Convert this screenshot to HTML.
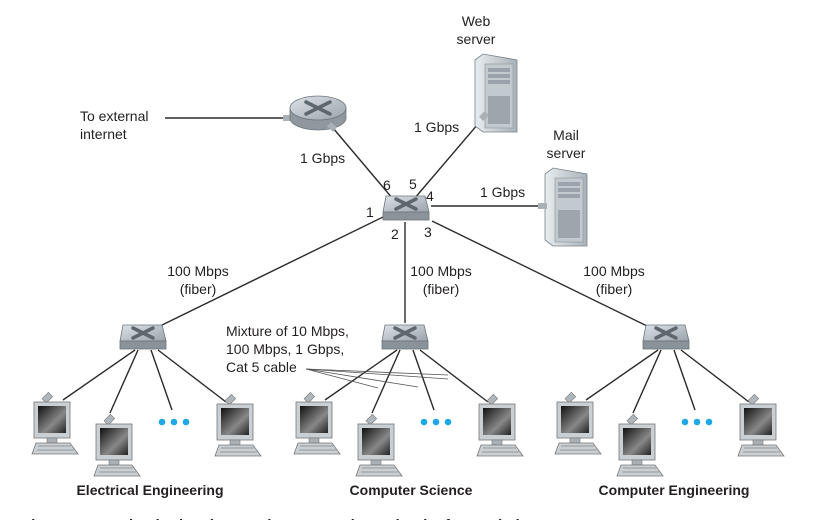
<!DOCTYPE html>
<html><head><meta charset="utf-8"><style>
html,body{margin:0;padding:0;background:#fff;overflow:hidden}
svg{display:block}
text{font-family:"Liberation Sans",sans-serif;font-size:14px;fill:#231f20}
.b{font-weight:bold}
</style></head><body>
<svg width="834" height="520" viewBox="0 0 834 520" xmlns="http://www.w3.org/2000/svg">
<defs>
<linearGradient id="sw" x1="0" y1="0" x2="1" y2="1"><stop offset="0" stop-color="#dde3e8"/><stop offset="1" stop-color="#9aa3ab"/></linearGradient>
<linearGradient id="scr" x1="0" y1="0" x2="1" y2="1"><stop offset="0" stop-color="#111"/><stop offset="0.6" stop-color="#888"/><stop offset="1" stop-color="#222"/></linearGradient>
<linearGradient id="srv" x1="0" y1="0" x2="1" y2="0"><stop offset="0" stop-color="#e8edf0"/><stop offset="1" stop-color="#a9b2b8"/></linearGradient>
<g id="switch">
<polygon points="3,0 42,0 46,16 0,16" fill="url(#sw)" stroke="#6d757c" stroke-width="0.8"/>
<rect x="0" y="16" width="46" height="8" fill="#8a939a" stroke="#6d757c" stroke-width="0.8"/>
<path d="M13,3 L33,13 M33,3 L13,13" stroke="#5f676e" stroke-width="3.5" stroke-linecap="round"/>
</g>
<g id="pc">
<rect x="10" y="-5" width="6" height="9" fill="#b0b7bc" stroke="#777" stroke-width="0.6" transform="rotate(45 13 0)"/>
<rect x="0" y="4" width="36" height="36" fill="#c9cfd3" stroke="#777" stroke-width="0.8"/>
<rect x="4" y="8" width="28" height="27" fill="url(#scr)"/>
<rect x="13" y="40" width="10" height="5" fill="#aab1b6" stroke="#777" stroke-width="0.6"/>
<polygon points="2,45 36,45 44,56 -2,56" fill="#c9cfd3" stroke="#777" stroke-width="0.8"/>
<path d="M4,48 H37 M3,52 H40" stroke="#888" stroke-width="0.8"/>
</g>
<g id="server">
<polygon points="0,6 8,0 42,6 42,78 8,78 0,72" fill="url(#srv)" stroke="#7a838a" stroke-width="0.8"/>
<rect x="10" y="10" width="28" height="64" fill="#c3cacf" stroke="#8a939a" stroke-width="0.6"/>
<rect x="13" y="14" width="22" height="4" fill="#9aa3ab"/>
<rect x="13" y="20" width="22" height="4" fill="#9aa3ab"/>
<rect x="13" y="26" width="22" height="4" fill="#9aa3ab"/>
<rect x="13" y="42" width="22" height="28" fill="#9da6ad"/>
</g>
</defs>

<g stroke="#2b2b2b" stroke-width="1.4" fill="none">
<line x1="165" y1="118" x2="290" y2="118"/>
<line x1="333" y1="128" x2="393" y2="199"/>
<line x1="484" y1="117" x2="414" y2="199"/>
<line x1="431" y1="206" x2="545" y2="206"/>
<line x1="383" y1="217" x2="160" y2="326"/>
<line x1="405" y1="222" x2="405" y2="323"/>
<line x1="432" y1="221" x2="647" y2="326"/>
</g>
<g id="lan" stroke="#2b2b2b" stroke-width="1.4">
<line x1="135" y1="350" x2="63" y2="400"/>
<line x1="138" y1="350" x2="110" y2="413"/>
<line x1="151" y1="350" x2="172" y2="410"/>
<line x1="158" y1="350" x2="226" y2="402"/>
</g>
<use href="#lan" x="262"/>
<use href="#lan" x="523"/>
<g stroke="#555" stroke-width="0.8">
<line x1="306" y1="369" x2="448" y2="379"/>
<line x1="306" y1="369" x2="448" y2="375"/>
<line x1="306" y1="369" x2="418" y2="387"/>
<line x1="306" y1="369" x2="378" y2="388"/>
</g>

<rect x="283" y="115" width="8" height="6" fill="#aab1b6"/>
<path d="M290,108 v10 a28,12 0 0 0 56,0 v-10 z" fill="#8f989f" stroke="#6d757c" stroke-width="0.8"/>
<ellipse cx="318" cy="108" rx="28" ry="12" fill="url(#sw)" stroke="#6d757c" stroke-width="0.8"/>
<path d="M306,102 L330,114 M330,102 L306,114" stroke="#5f676e" stroke-width="3.5" stroke-linecap="round"/>
<rect x="328" y="124" width="8" height="6" fill="#aab1b6" transform="rotate(40 332 127)"/>

<use href="#switch" x="383" y="196"/>
<use href="#switch" x="120" y="325"/>
<use href="#switch" x="382" y="325"/>
<use href="#switch" x="643" y="325"/>

<use href="#server" x="475" y="54"/>
<use href="#server" x="545" y="168"/>
<rect x="480" y="113" width="8" height="6" fill="#aab1b6" transform="rotate(-45 484 116)"/>
<rect x="538" y="203" width="9" height="6" fill="#aab1b6"/>

<g id="pcs">
<use href="#pc" x="34" y="398"/>
<use href="#pc" x="96" y="420"/>
<use href="#pc" x="217" y="400"/>
<circle cx="162" cy="422" r="3.3" fill="#1ea8e6"/>
<circle cx="174" cy="422" r="3.3" fill="#1ea8e6"/>
<circle cx="186" cy="422" r="3.3" fill="#1ea8e6"/>
</g>
<use href="#pcs" x="262"/>
<use href="#pcs" x="523"/>

<text x="476" y="26" text-anchor="middle">Web</text>
<text x="476" y="44" text-anchor="middle">server</text>
<text x="566" y="140" text-anchor="middle">Mail</text>
<text x="566" y="158" text-anchor="middle">server</text>
<text x="80" y="121">To external</text>
<text x="80" y="139">internet</text>
<text x="414" y="132">1 Gbps</text>
<text x="300" y="163">1 Gbps</text>
<text x="480" y="197">1 Gbps</text>
<text x="383" y="190">6</text>
<text x="409" y="189">5</text>
<text x="426" y="201">4</text>
<text x="366" y="217">1</text>
<text x="391" y="239">2</text>
<text x="424" y="237">3</text>
<text x="198" y="276" text-anchor="middle">100 Mbps</text>
<text x="198" y="294" text-anchor="middle">(fiber)</text>
<text x="441" y="276" text-anchor="middle">100 Mbps</text>
<text x="441" y="294" text-anchor="middle">(fiber)</text>
<text x="614" y="276" text-anchor="middle">100 Mbps</text>
<text x="614" y="294" text-anchor="middle">(fiber)</text>
<text x="226" y="336">Mixture of 10 Mbps,</text>
<text x="226" y="354">100 Mbps, 1 Gbps,</text>
<text x="226" y="372">Cat 5 cable</text>
<text class="b" x="150" y="495" text-anchor="middle">Electrical Engineering</text>
<text class="b" x="411" y="495" text-anchor="middle">Computer Science</text>
<text class="b" x="674" y="495" text-anchor="middle">Computer Engineering</text>
<text class="b" x="22" y="530" style="font-size:15px">Figure 6.15 An institutional network connected together by four switches</text>
</svg>
</body></html>
